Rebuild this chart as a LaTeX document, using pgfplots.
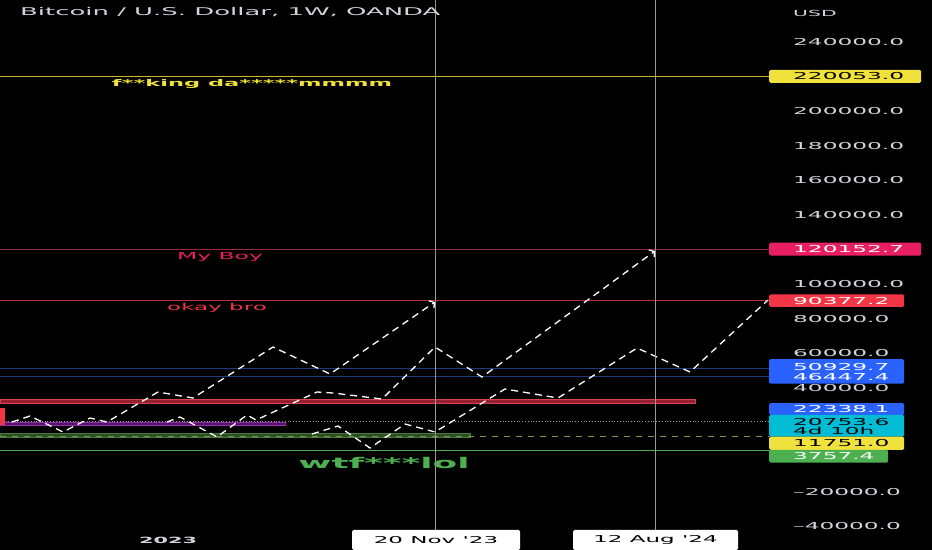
\documentclass[border=0pt]{standalone}
\usepackage{pgfplots}
\pgfplotsset{compat=1.18}
\usetikzlibrary{arrows.meta}
\usepackage{fontspec}
% the screenshot is stretched sideways, so the font is too
\newfontfamily\tv[FakeStretch=2.43]{DejaVu Sans}

\definecolor{tvtext}{RGB}{209,212,220}
\definecolor{tvyellow}{RGB}{240,225,60}
\definecolor{tvyline}{RGB}{205,185,45}
\definecolor{tvpink}{RGB}{233,30,99}
\definecolor{tvpinkline}{RGB}{150,40,65}
\definecolor{tvred}{RGB}{242,54,69}
\definecolor{tvredline}{RGB}{190,45,60}
\definecolor{tvblue}{RGB}{41,98,255}
\definecolor{tvblueline}{RGB}{30,58,130}
\definecolor{tvcyan}{RGB}{0,188,212}
\definecolor{tvgreen}{RGB}{76,175,80}
\definecolor{tvgrid}{RGB}{150,150,155}
\definecolor{tvolive}{RGB}{140,140,70}

\newcommand\lblbox[4]{% centre value, width, height, fill
  \node[fill=#4, rounded corners=1.5bp, anchor=west, inner sep=0pt,
        minimum width=#2, minimum height=#3] at (axis cs:769,#1) {};}
\newcommand\lbltxt[3]{% value, colour, text
  \node[anchor=west, inner sep=0pt, text=#2,
        font=\tv\fontsize{9.6}{10}\selectfont] at (axis cs:793,#1) {#3};}

\begin{document}
\begin{tikzpicture}
\begin{axis}[
  width=932bp, height=550bp, scale only axis,
  xmin=0, xmax=932, ymin=-53757, ymax=264162,
  axis line style={draw=none},
  axis background/.style={fill=black},
  xtick=\empty, scaled y ticks=false,
  ytick={-40000,-20000,40000,60000,80000,100000,140000,160000,180000,200000,240000},
  yticklabels={–40000.0,–20000.0,40000.0,60000.0,80000.0,100000.0,140000.0,160000.0,180000.0,200000.0,240000.0},
  yticklabel pos=right, major tick length=0pt,
  yticklabel style={anchor=west, inner sep=0pt, xshift=-139bp, text=tvtext,
    font=\tv\fontsize{9.6}{10}\selectfont},
]

% horizontal levels
\addplot[tvyline, line width=1.4bp] coordinates {(0,220053) (770,220053)};
\addplot[tvpinkline, line width=1.1bp] coordinates {(0,120152.7) (770,120152.7)};
\addplot[tvredline, line width=1.1bp] coordinates {(0,90377.2) (770,90377.2)};
\addplot[tvblueline, line width=0.9bp] coordinates {(0,50929.7) (770,50929.7)};
\addplot[tvblueline, line width=0.9bp] coordinates {(0,46447.4) (770,46447.4)};
\addplot[fill={rgb,255:red,150;green,32;blue,48}, draw={rgb,255:red,210;green,70;blue,80}, line width=0.8bp]
  coordinates {(0,31040) (695,31040) (695,33352) (0,33352)} -- cycle;
\addplot[fill={rgb,255:red,85;green,20;blue,105}, draw={rgb,255:red,150;green,45;blue,170}, line width=0.7bp]
  coordinates {(0,18497) (285,18497) (285,20058) (0,20058)} -- cycle;
\addplot[fill={rgb,255:red,40;green,78;blue,38}, draw={rgb,255:red,70;green,125;blue,60}, line width=0.7bp]
  coordinates {(0,11561) (470,11561) (470,13873) (0,13873)} -- cycle;
\addplot[tvgrid, dotted, line width=0.8bp] coordinates {(0,20753.6) (770,20753.6)};
\addplot[color=tvolive, line width=0.9bp, dash pattern=on 6bp off 6bp]
  coordinates {(0,11751) (770,11751)};
\addplot[tvgreen, line width=1.1bp] coordinates {(0,3757.4) (770,3757.4)};
\addplot[fill=tvred, draw=none] coordinates {(0,18497) (5,18497) (5,28324) (0,28324)} -- cycle;

% projected paths
\addplot[white, line width=1.3bp, dash pattern=on 7bp off 5bp,
  -{Straight Barb[length=3.5bp,width=9bp]}] coordinates {
  (12,20231) (30,23699) (63,14451) (90,22543) (107,20231) (158,37572)
  (193,34104) (273,63583) (330,47976) (435,89595)};
\addplot[white, line width=1.3bp, dash pattern=on 7bp off 5bp,
  -{Straight Barb[length=3.5bp,width=9bp]}] coordinates {
  (167,20231) (180,23121) (217,11561) (247,24277) (256,21387) (317,37572)
  (333,36994) (382,33526) (435,63583) (482,46242) (655,119074)};
\addplot[white, line width=1.3bp, dash pattern=on 7bp off 5bp] coordinates {
  (312,13295) (338,17919) (370,5202) (405,19075) (435,14451) (505,39306)
  (558,34104) (637,63005) (690,49133) (768,90751)};

% crosshair verticals
\addplot[tvgrid, line width=1bp] coordinates {(435,264162) (435,-42196)};
\addplot[tvgrid, line width=1bp] coordinates {(655,264162) (655,-42196)};

% texts on the chart
\node[anchor=west, inner sep=0pt, text=tvtext, font=\tv\fontsize{10.7}{11}\selectfont]
  at (axis cs:20,257223) {Bitcoin / U.S. Dollar, 1W, OANDA};
\node[anchor=west, inner sep=0pt, text=tvtext, font=\tv\fontsize{8.4}{9}\selectfont]
  at (axis cs:793,256645) {USD};
\node[inner sep=0pt, text=tvyellow, font=\tv\bfseries\fontsize{9.3}{10}\selectfont]
  at (axis cs:252,215605) {f**king da*****mmmm};
\node[inner sep=0pt, text=tvpink, font=\tv\fontsize{9.7}{10}\selectfont]
  at (axis cs:220,115606) {My Boy};
\node[inner sep=0pt, text=tvred, font=\tv\fontsize{9.5}{10}\selectfont]
  at (axis cs:217,86126) {okay bro};
\node[inner sep=0pt, text=tvgreen, font=\tv\bfseries\fontsize{14.8}{15}\selectfont]
  at (axis cs:384,-3468) {wtf***lol};

% price labels
\lblbox{220053}{152bp}{13bp}{tvyellow}
\lbltxt{220053}{black}{220053.0}
\lblbox{120152.7}{152bp}{13bp}{tvpink}
\lbltxt{120152.7}{white}{120152.7}
\lblbox{90377.2}{135bp}{12.5bp}{tvred}
\lbltxt{90377.2}{white}{90377.2}
\lblbox{49422}{135bp}{24.5bp}{tvblue}
\lbltxt{52023}{white}{50929.7}
\lbltxt{45953}{white}{46447.4}
\lblbox{27630}{135bp}{12bp}{tvblue}
\lbltxt{27630}{white}{22338.1}
\lblbox{18034}{135bp}{21.7bp}{tvcyan}
\lbltxt{20405}{black}{20753.6}
\lbltxt{15202}{black}{4d 10h}
\lblbox{7919}{135bp}{13.3bp}{tvyellow}
\lbltxt{7919}{black}{11751.0}
\lblbox{405}{119bp}{12.7bp}{tvgreen}
\lbltxt{405}{white}{3757.4}

% time axis
\node[inner sep=0pt, text=tvtext, font=\tv\bfseries\fontsize{8.6}{9}\selectfont]
  at (axis cs:168,-47976) {2023};
\node[fill=white, rounded corners=1.5bp, inner sep=0pt, minimum width=168bp, minimum height=20bp,
  text=black, font=\tv\fontsize{9.5}{10}\selectfont] at (axis cs:436,-47976) {20 Nov '23};
\node[fill=white, rounded corners=1.5bp, inner sep=0pt, minimum width=165bp, minimum height=20bp,
  text=black, font=\tv\fontsize{9.5}{10}\selectfont] at (axis cs:655.5,-47976) {12 Aug '24};
\end{axis}
\pgfresetboundingbox
\useasboundingbox (current axis.south west) rectangle (current axis.north east);
\end{tikzpicture}
\end{document}
